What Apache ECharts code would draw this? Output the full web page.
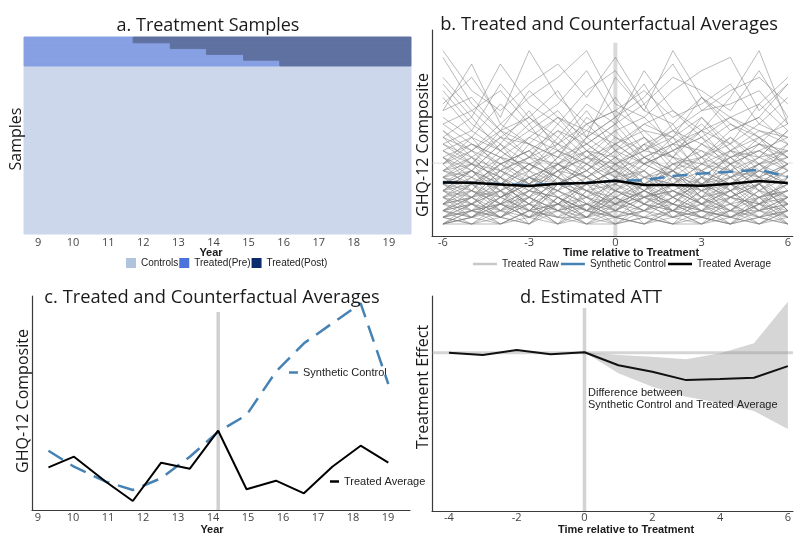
<!DOCTYPE html>
<html><head><meta charset="utf-8">
<script src="https://cdn.jsdelivr.net/npm/echarts@6/dist/echarts.min.js"></script>
<style>html,body{margin:0;padding:0;background:#fff}#c{width:794px;height:535px}</style>
</head><body><div id="c"></div>
<script>
// ---------- Panel a: treatment samples ----------
const yearTicks = [9, 10, 11, 12, 13, 14, 15, 16, 17, 18, 19];
const yearRange = [8.6, 19.63];
const treatedStart = [11.71, 12.77, 13.8, 14.86, 15.89];
const controlRows = 29;

// ---------- Panel b: raw treated trajectories ----------
const relTime = [-6, -5, -4, -3, -2, -1, 0, 1, 2, 3, 4, 5, 6];
const relTicksB = [-6, -3, 0, 3, 6];
const rawTreated = [
  [2,4,1,3,0,2,5,3,1,2,4,2,3],
  [6,8,5,7,9,6,8,10,7,5,6,8,7],
  [0,1,0,2,1,0,0,1,2,0,1,0,1],
  [10,12,9,11,14,10,12,9,11,13,10,12,11],
  [4,2,6,3,5,7,4,2,5,3,6,4,5],
  [14,11,15,12,10,16,13,11,14,12,15,13,10],
  [1,3,2,0,4,1,3,5,2,1,0,3,2],
  [8,6,9,7,5,10,8,6,9,11,7,8,6],
  [3,5,4,6,2,3,7,4,5,3,2,6,4],
  [12,9,13,10,15,11,8,12,14,10,13,9,11],
  [5,7,3,8,6,4,9,6,3,7,5,8,6],
  [20,15,12,17,11,14,19,13,10,16,12,18,14],
  [2,0,3,1,2,4,1,0,3,2,1,4,0],
  [9,11,7,10,12,8,11,13,9,8,10,7,12],
  [7,4,8,5,9,6,3,7,8,4,9,5,7],
  [16,13,18,14,12,15,17,14,13,19,15,12,16],
  [0,2,1,0,3,2,0,1,0,2,3,1,0],
  [11,8,12,9,7,13,10,8,12,11,9,13,10],
  [3,6,2,5,4,1,6,3,7,4,2,5,3],
  [6,3,7,4,8,5,2,6,4,7,3,6,8],
  [25,18,14,20,16,13,22,17,15,19,14,16,21],
  [4,7,5,2,6,8,5,3,6,4,8,3,5],
  [13,16,11,14,17,12,15,18,11,14,16,13,15],
  [1,0,2,4,1,3,0,2,1,3,0,2,4],
  [8,10,6,9,11,7,10,6,8,12,9,7,9],
  [5,3,6,8,4,2,7,5,9,6,4,7,3],
  [18,22,16,26,19,15,17,20,16,18,21,15,19],
  [2,5,3,1,6,4,2,5,3,1,4,6,2],
  [10,7,11,8,13,9,6,10,12,8,11,9,7],
  [7,9,8,6,10,12,9,7,6,9,8,10,11],
  [0,1,3,2,0,1,4,2,0,1,2,0,3],
  [15,12,10,13,16,11,14,16,12,15,11,14,13],
  [3,4,1,5,3,6,2,4,6,3,5,2,4],
  [9,5,10,6,8,11,7,12,10,6,9,11,8],
  [22,17,20,15,18,23,16,19,24,17,20,22,18],
  [6,8,4,7,5,9,6,4,8,5,7,9,6],
  [1,2,0,1,3,0,2,1,0,4,1,2,0],
  [12,14,11,15,9,13,16,11,10,14,12,15,13],
  [4,1,5,3,7,2,5,8,4,2,6,3,7],
  [8,11,9,6,10,8,12,9,11,7,10,6,9],
  [26,20,17,21,24,19,25,18,22,20,17,23,16],
  [5,6,7,4,2,6,8,5,3,7,6,4,5],
  [2,3,5,0,4,2,3,6,1,4,2,5,1],
  [14,10,13,16,12,17,11,15,13,10,14,16,12],
  [7,5,9,11,6,8,5,9,7,10,5,8,10],
  [0,0,1,3,2,0,1,0,2,1,0,1,2],
  [11,13,8,10,14,12,9,11,15,9,13,10,14],
  [3,2,4,6,5,3,1,4,2,5,3,4,6],
  [17,24,15,19,22,26,18,16,20,23,25,17,21],
  [6,4,5,9,7,4,6,8,5,3,7,5,4],
  [9,12,10,8,11,9,13,10,8,12,10,11,9],
  [1,4,2,3,0,5,3,2,4,1,3,0,2],
  [19,14,21,16,13,18,15,23,17,14,19,26,15],
  [4,6,3,5,8,3,4,7,6,5,2,4,6],
  [13,9,14,12,10,15,11,9,13,16,11,10,14],
  [2,1,4,2,3,1,5,3,2,0,4,3,1],
  [7,10,6,9,7,11,8,5,10,8,6,9,12],
  [0,3,1,4,2,1,2,4,3,2,1,3,0],
  [21,16,24,18,15,20,23,17,26,19,16,18,22],
  [5,8,6,3,7,5,9,4,6,8,5,7,4],
  [3,1,4,2,5,3,1,2,4,6,3,1,2],
  [7,6,8,10,7,5,6,9,7,6,8,7,9],
  [1,2,1,0,2,3,1,0,1,2,0,1,3],
  [5,8,4,6,9,7,3,5,8,4,6,9,5],
  [10,8,12,7,9,11,10,13,8,10,12,8,11],
  [2,4,6,3,1,5,4,2,6,3,5,1,4],
  [0,1,2,1,0,3,2,1,0,0,2,1,0],
  [6,5,3,7,4,6,8,3,5,7,4,6,3],
  [12,10,8,13,11,9,12,14,10,9,11,13,8],
  [4,3,5,1,3,4,2,5,3,6,1,3,5],
  [8,7,10,9,6,8,11,7,9,10,8,6,9],
  [1,0,0,2,1,1,0,3,1,0,2,2,1],
  [3,6,4,7,5,2,4,6,2,5,7,4,3],
  [9,13,11,8,12,10,14,9,11,13,8,12,10],
  [5,2,3,4,6,5,3,1,4,2,5,6,2],
  [11,9,7,12,8,10,9,11,13,7,10,12,9],
  [2,3,1,4,2,0,3,4,5,2,1,3,4],
  [6,9,7,5,8,10,7,8,4,6,9,5,8],
  [0,2,3,1,4,2,1,2,3,1,0,4,1],
  [13,11,14,10,9,12,15,10,12,14,9,11,13],
  [4,5,2,6,3,7,5,4,2,6,4,3,6],
  [7,8,6,4,9,7,10,6,8,5,11,7,6],
  [2,1,3,5,4,2,1,3,2,4,5,2,3],
  [10,6,9,11,8,7,9,12,6,9,7,10,8],
  [3,4,7,2,6,4,3,5,7,3,4,6,2],
  [15,17,13,12,16,14,12,15,17,13,16,14,12],
  [1,3,0,2,3,1,4,0,2,3,1,0,2],
  [8,9,5,7,6,9,7,10,8,6,7,9,10],
  [5,4,8,6,3,6,5,7,4,8,6,2,7],
  [17,19,14,16,20,13,16,21,14,17,18,20,15]
];
const bTreatedAvg = [6.24, 6.18, 5.94, 5.69, 6.03, 6.14, 6.48, 5.84, 5.84, 5.73, 6.03, 6.44, 6.14];
const bSynth = [6.29, 6.18, 5.99, 5.84, 6.03, 6.18, 6.48, 6.59, 7.19, 7.59, 7.83, 8.13, 7.08];
const bRefLevel = 9.13;
const bRange = { x: [-6.38, 6.17], y: [-1.8, 29.1], lineTop: 27.2 };

// ---------- Panel c: averages by year ----------
const cYears = [9.30, 10.03, 10.94, 11.71, 12.52, 13.34, 14.15, 14.96, 15.8, 16.6, 17.41, 18.22, 19.01];
const cTreatedAvg = [4.27, 5.33, 2.83, 0.9, 4.73, 4.13, 7.93, 2.07, 2.93, 1.67, 4.33, 6.43, 4.73];
const cSynth = [5.93, 4.33, 2.83, 2.0, 3.17, 5.33, 7.83, 9.5, 13.83, 16.67, 18.67, 20.67, 12.6];
const cTreatYear = 14.15;
const cRange = { x: [8.83, 19.63], y: [0, 21.4], lineTop: 19.8 };

// ---------- Panel d: estimated ATT ----------
const dTime = [-4, -3, -2, -1, 0, 1, 2, 3, 4, 5, 6];
const dATT = [0, -0.115, 0.135, -0.08, 0.02, -0.63, -0.95, -1.37, -1.32, -1.25, -0.67];
const dBandTime = [0, 1, 2, 3, 4, 5, 6];
const dUpper = [0.02, -0.12, -0.2, -0.33, -0.03, 0.47, 2.55];
const dLower = [0.02, -1.03, -1.7, -2.2, -2.52, -2.92, -3.82];
const dTicks = [-4, -2, 0, 2, 4, 6];
const dRange = { x: [-4.5, 6.15], y: [-7.915, 2.835], lineTop: 2.235 };

// ---------- build ----------
const chart = echarts.init(document.getElementById('c'), null, { renderer: 'canvas' });
const tickFont = { fontFamily: '"Open Sans"', fontSize: 11, color: '#444' };
const axisLineStyle = { color: '#3a3a3a', width: 1.2 };

function xAx(grid, range, ticks, margin, showLine) {
  return {
    type: 'value', gridIndex: grid, min: range[0], max: range[1],
    axisLine: { show: showLine, lineStyle: axisLineStyle, onZero: false },
    axisTick: { show: false }, splitLine: { show: false },
    axisLabel: Object.assign({ customValues: ticks, margin: margin, showMinLabel: true, showMaxLabel: true }, tickFont)
  };
}
function yAx(grid, range, showLine, inverse) {
  return {
    type: 'value', gridIndex: grid, min: range[0], max: range[1], inverse: !!inverse,
    axisLine: { show: showLine, lineStyle: axisLineStyle, onZero: false },
    axisTick: { show: false }, splitLine: { show: false }, axisLabel: { show: false }
  };
}

function rectSeries(name, legendColor, fill, data) {
  return {
    type: 'custom', name: name, xAxisIndex: 0, yAxisIndex: 0, silent: true,
    itemStyle: { color: legendColor },
    encode: { x: [0, 1], y: [2, 3] },
    data: data,
    renderItem: function (params, api) {
      const p0 = api.coord([api.value(0), api.value(2)]);
      const p1 = api.coord([api.value(1), api.value(3)]);
      return { type: 'rect', shape: { x: p0[0], y: p0[1], width: p1[0] - p0[0], height: p1[1] - p0[1] },
               style: { fill: fill, stroke: fill, lineWidth: 1 } };
    }
  };
}
const nT = treatedStart.length;
const series = [];
series.push(rectSeries('Controls', '#b0c4de', '#ccd7eb', [[yearRange[0], yearRange[1], nT, nT + controlRows]]));
series.push(rectSeries('Treated(Pre)', '#4a74dc', '#87a0e3', treatedStart.map((s, i) => [yearRange[0], s, i, i + 1])));
series.push(rectSeries('Treated(Post)', '#0c2a6e', '#5f71a0', treatedStart.map((s, i) => [s, yearRange[1], i, i + 1])));

function simpleLine(xi, data, style, z, name) {
  return { type: 'line', name: name, xAxisIndex: xi, yAxisIndex: xi, data: data, symbol: 'none',
           lineStyle: style, itemStyle: { color: style.color }, silent: true, z: z, animation: false };
}
// panel b
series.push(simpleLine(1, [[0, bRange.y[0]], [0, bRange.lineTop]], { color: '#d9d9d9', width: 4 }, 1));
series.push(simpleLine(1, [[bRange.x[0], bRefLevel], [bRange.x[1], bRefLevel]], { color: 'rgba(190,190,190,0.5)', width: 1 }, 1));
rawTreated.forEach(row => {
  series.push(simpleLine(1, row.map((v, i) => [relTime[i], v]), { color: 'rgba(125,125,125,0.52)', width: 1 }, 2, 'Treated Raw'));
});
series.push(simpleLine(1, bSynth.map((v, i) => [relTime[i], v]), { color: '#4682b4', width: 2.5, type: [15, 8] }, 4, 'Synthetic Control'));
series.push(simpleLine(1, bTreatedAvg.map((v, i) => [relTime[i], v]), { color: '#000', width: 2.5 }, 5, 'Treated Average'));
// panel c
series.push(simpleLine(2, [[cTreatYear, cRange.y[0]], [cTreatYear, cRange.lineTop]], { color: '#d0d0d0', width: 3.5 }, 1));
series.push(simpleLine(2, cSynth.map((v, i) => [cYears[i], v]), { color: '#4682b4', width: 2.5, type: [17, 9] }, 4, 'Synthetic Control'));
series.push(simpleLine(2, cTreatedAvg.map((v, i) => [cYears[i], v]), { color: '#000', width: 2 }, 5, 'Treated Average'));
// panel d
series.push({
  type: 'custom', xAxisIndex: 3, yAxisIndex: 3, silent: true, z: 1,
  data: [[dBandTime[0], dLower[0], dUpper[0]]],
  renderItem: function (params, api) {
    const pts = [];
    dBandTime.forEach((t, i) => pts.push(api.coord([t, dUpper[i]])));
    for (let i = dBandTime.length - 1; i >= 0; i--) pts.push(api.coord([dBandTime[i], dLower[i]]));
    return { type: 'polygon', shape: { points: pts }, style: { fill: '#d6d6d6' } };
  }
});
series.push(simpleLine(3, [[0, dRange.y[0]], [0, dRange.lineTop]], { color: '#d3d3d3', width: 3.5 }, 2));
series.push(simpleLine(3, [[dRange.x[0], 0], [dRange.x[1], 0]], { color: 'rgba(150,150,150,0.4)', width: 3 }, 3));
series.push(simpleLine(3, dATT.map((v, i) => [dTime[i], v]), { color: '#111', width: 2 }, 5));

const legFont = { fontFamily: '"Liberation Sans"', fontSize: 10, color: '#222' };
const option = {
  animation: false,
  backgroundColor: '#fff',
  grid: [
    { left: 24, top: 37, right: 383, bottom: 301 },
    { left: 432, top: 30, right: 1, bottom: 299 },
    { left: 32, top: 296, right: 384, bottom: 25 },
    { left: 432, top: 296, right: 0, bottom: 24 }
  ],
  xAxis: [
    xAx(0, yearRange, yearTicks, 3, false),
    xAx(1, bRange.x, relTicksB, 1, true),
    xAx(2, cRange.x, yearTicks, 2, true),
    xAx(3, dRange.x, dTicks, 1, true)
  ],
  yAxis: [
    yAx(0, [0, nT + controlRows], false, true),
    yAx(1, bRange.y, true),
    yAx(2, cRange.y, true),
    yAx(3, dRange.y, true)
  ],
  legend: [
    { data: ['Controls', 'Treated(Pre)', 'Treated(Post)'], left: 126, top: 258, icon: 'rect',
      itemWidth: 10, itemHeight: 10, itemGap: 1, selectedMode: false, textStyle: legFont, padding: 0 },
    { data: [
        { name: 'Treated Raw', itemStyle: { color: '#c8c8c8' } },
        { name: 'Synthetic Control', itemStyle: { color: '#4682b4' } },
        { name: 'Treated Average', itemStyle: { color: '#000' } }
      ], left: 473, top: 259, icon: 'rect', itemWidth: 24, itemHeight: 2.5, itemGap: 2, selectedMode: false,
      textStyle: legFont, padding: 0 },
    { data: [{ name: 'Synthetic Control', itemStyle: { color: '#4682b4' } }],
      left: 289, top: 367, icon: 'rect', itemWidth: 9, itemHeight: 2.5, selectedMode: false, padding: 0,
      textStyle: { fontFamily: '"Liberation Sans"', fontSize: 11, color: '#222' } },
    { data: [{ name: 'Treated Average', itemStyle: { color: '#000' } }],
      left: 330, top: 476, icon: 'rect', itemWidth: 9, itemHeight: 2.5, selectedMode: false, padding: 0,
      textStyle: { fontFamily: '"Liberation Sans"', fontSize: 11, color: '#222' } }
  ],
  graphic: [
    txt('a. Treatment Samples', 208, 26, '18px "Open Sans"', 0),
    txt('b. Treated and Counterfactual Averages', 609, 25, '18.3px "Open Sans"', 0),
    txt('c. Treated and Counterfactual Averages', 212, 298, '18.3px "Open Sans"', 0),
    txt('d. Estimated ATT', 591, 298, '18.3px "Open Sans"', 0),
    txt('Samples', 16, 139, '16px "Open Sans"', Math.PI / 2),
    txt('GHQ-12 Composite', 423, 145, '16px "Open Sans"', Math.PI / 2),
    txt('GHQ-12 Composite', 23, 401, '16px "Open Sans"', Math.PI / 2),
    txt('Treatment Effect', 423, 387, '16px "Open Sans"', Math.PI / 2),
    txt('Year', 211, 253, 'bold 11px "Liberation Sans"', 0),
    txt('Time relative to Treatment', 631, 253, 'bold 11px "Liberation Sans"', 0),
    txt('Year', 212, 530, 'bold 11px "Liberation Sans"', 0),
    txt('Time relative to Treatment', 626, 530, 'bold 11px "Liberation Sans"', 0),
    { type: 'text', x: 588, y: 399, z: 10,
      style: { text: 'Difference between\nSynthetic Control and Treated Average', font: '11px "Liberation Sans"',
               fill: '#222', lineHeight: 12.5, align: 'left', verticalAlign: 'middle',
               textAlign: 'left', textVerticalAlign: 'middle' } }
  ],
  series: series
};
function txt(t, x, y, font, rot) {
  return { type: 'text', x: x, y: y, rotation: rot, z: 10,
           style: { text: t, font: font, fill: '#1a1a1a', align: 'center', verticalAlign: 'middle',
                    textAlign: 'center', textVerticalAlign: 'middle' } };
}
chart.setOption(option);
</script></body></html>
